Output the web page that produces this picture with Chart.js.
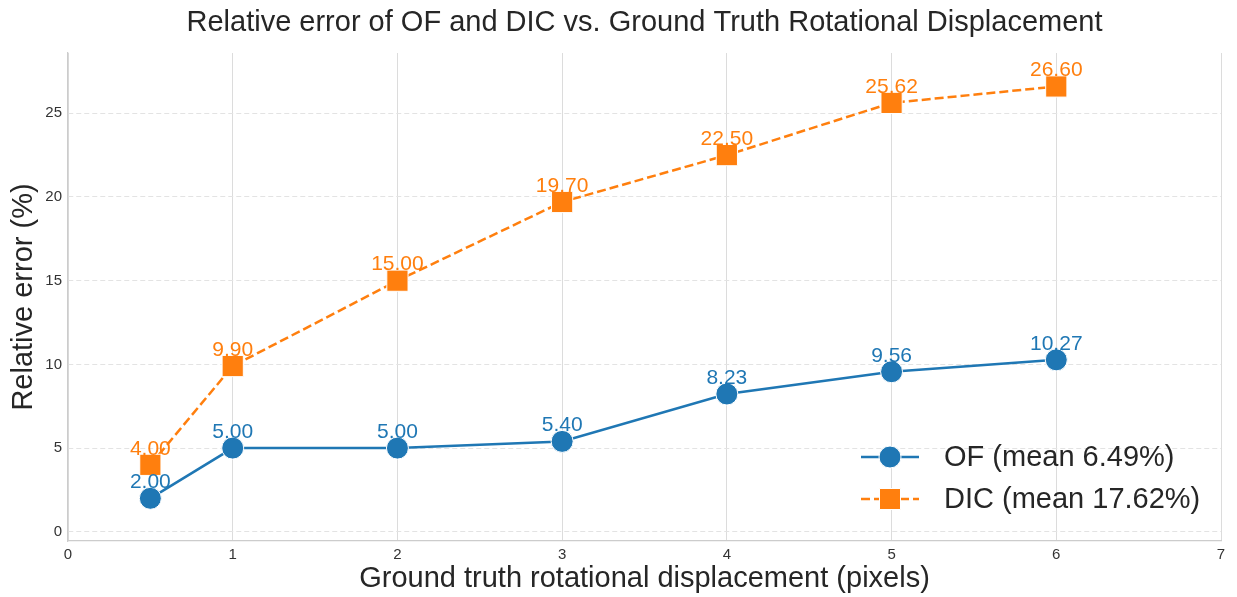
<!DOCTYPE html>
<html>
<head>
<meta charset="utf-8">
<script src="https://cdn.jsdelivr.net/npm/chart.js@4.4.1/dist/chart.umd.min.js"></script>
<style>
  html, body { margin: 0; padding: 0; background: #fff; }
  #wrap { width: 1237px; height: 597px; }
</style>
</head>
<body>
<div id="wrap"><canvas id="errChart"></canvas></div>
<script>
// Ground truth displacement (pixels)
const displacement = [0.5, 1, 2, 3, 4, 5, 6];
// Relative error (%) for each method
const ofError = [2.00, 5.00, 5.00, 5.40, 8.23, 9.56, 10.27];
const dicError = [4.00, 9.90, 15.00, 19.70, 22.50, 25.62, 26.60];
const seriesNames = ['OF (mean 6.49%)', 'DIC (mean 17.62%)'];
const chartTitle = 'Relative error of OF and DIC vs. Ground Truth Rotational Displacement';
const xTicks = [0, 1, 2, 3, 4, 5, 6, 7];
const yTicks = [0, 5, 10, 15, 20, 25];

const BLUE = '#1f77b4';
const ORANGE = '#ff7f0e';
const FONT = '"Liberation Sans", Arial, sans-serif';

// title centred over the plot area (like matplotlib), not the whole canvas
const axesTitle = {
    id: 'axesTitle',
    afterDraw(chart) {
        const ctx = chart.ctx;
        const area = chart.chartArea;
        ctx.save();
        ctx.font = '29px ' + FONT;
        ctx.fillStyle = '#262626';
        ctx.textAlign = 'center';
        ctx.textBaseline = 'middle';
        ctx.fillText(chartTitle, (area.left + area.right) / 2, 23);
        ctx.restore();
    }
};

// value labels above every marker
const valueLabels = {
    id: 'valueLabels',
    afterDatasetsDraw(chart) {
        const ctx = chart.ctx;
        ctx.save();
        ctx.font = '21px ' + FONT;
        ctx.textAlign = 'center';
        ctx.textBaseline = 'middle';
        chart.data.datasets.forEach((ds, i) => {
            const meta = chart.getDatasetMeta(i);
            ctx.fillStyle = ds.borderColor;
            meta.data.forEach((pt, j) => {
                ctx.fillText(ds.data[j].y.toFixed(2), pt.x, pt.y - 16);
            });
        });
        ctx.restore();
    }
};

// matplotlib style legend, lower right inside the axes
const cornerLegend = {
    id: 'cornerLegend',
    afterDraw(chart) {
        const ctx = chart.ctx;
        const area = chart.chartArea;
        const x0 = area.right - 365;
        ctx.save();
        ctx.font = '29px ' + FONT;
        ctx.textBaseline = 'middle';
        chart.data.datasets.forEach((ds, i) => {
            const y = area.bottom - 84 + i * 42;
            ctx.strokeStyle = ds.borderColor;
            ctx.lineWidth = 2.5;
            ctx.setLineDash(ds.borderDash || []);
            ctx.beginPath();
            ctx.moveTo(x0 + 5, y);
            ctx.lineTo(x0 + 63, y);
            ctx.stroke();
            ctx.setLineDash([]);
            ctx.fillStyle = ds.borderColor;
            ctx.strokeStyle = '#fff';
            ctx.lineWidth = 1;
            ctx.beginPath();
            if (ds.pointStyle === 'rect') {
                ctx.rect(x0 + 34 - 10.5, y - 10.5, 21, 21);
            } else {
                ctx.arc(x0 + 34, y, 11, 0, Math.PI * 2);
            }
            ctx.fill();
            ctx.stroke();
            ctx.fillStyle = '#262626';
            ctx.fillText(ds.label, x0 + 88, y + 1);
        });
        ctx.restore();
    }
};

const toPoints = (ys) => ys.map((v, i) => ({ x: displacement[i], y: v }));

new Chart(document.getElementById('errChart'), {
    type: 'line',
    data: {
        datasets: [{
            label: seriesNames[0],
            data: toPoints(ofError),
            borderColor: BLUE,
            backgroundColor: BLUE,
            borderWidth: 2.5,
            pointStyle: 'circle',
            pointRadius: 11,
            pointHoverRadius: 11,
            pointBorderColor: '#fff',
            pointBorderWidth: 1,
            tension: 0
        }, {
            label: seriesNames[1],
            data: toPoints(dicError),
            borderColor: ORANGE,
            backgroundColor: ORANGE,
            borderWidth: 2.5,
            borderDash: [9, 4],
            pointStyle: 'rect',
            pointRadius: 15,
            pointHoverRadius: 15,
            pointBorderColor: '#fff',
            pointBorderWidth: 1,
            tension: 0
        }]
    },
    options: {
        responsive: true,
        maintainAspectRatio: false,
        animation: false,
        layout: { padding: { left: 0, right: 10, top: 53, bottom: 0 } },
        plugins: {
            legend: { display: false },
            tooltip: { enabled: false },
            title: { display: false }
        },
        scales: {
            x: {
                type: 'linear',
                min: 0,
                max: 7,
                afterBuildTicks: (scale) => { scale.ticks = xTicks.map(v => ({ value: v })); },
                afterFit: (scale) => { scale.height = 56; },
                grid: { color: '#dcdcdc', lineWidth: 1, drawTicks: false },
                border: { display: true, color: '#cccccc', width: 1.25 },
                ticks: { color: '#333', font: { family: FONT, size: 15 }, padding: 5 },
                title: {
                    display: true,
                    text: 'Ground truth rotational displacement (pixels)',
                    color: '#262626',
                    font: { family: FONT, size: 29 },
                    padding: { top: 0, bottom: 1 }
                }
            },
            y: {
                type: 'linear',
                min: -0.55,
                max: 28.6,
                afterBuildTicks: (scale) => { scale.ticks = yTicks.map(v => ({ value: v })); },
                afterFit: (scale) => { scale.width = 68; },
                grid: { color: '#e3e3e3', lineWidth: 1, drawTicks: false },
                border: { display: true, color: '#cccccc', width: 1.25, dash: [5, 3] },
                ticks: { color: '#333', font: { family: FONT, size: 15 }, padding: 6 },
                title: {
                    display: true,
                    text: 'Relative error (%)',
                    color: '#262626',
                    font: { family: FONT, size: 29 },
                    padding: { top: 7, bottom: 0 }
                }
            }
        }
    },
    plugins: [axesTitle, valueLabels, cornerLegend]
});
</script>
</body>
</html>
